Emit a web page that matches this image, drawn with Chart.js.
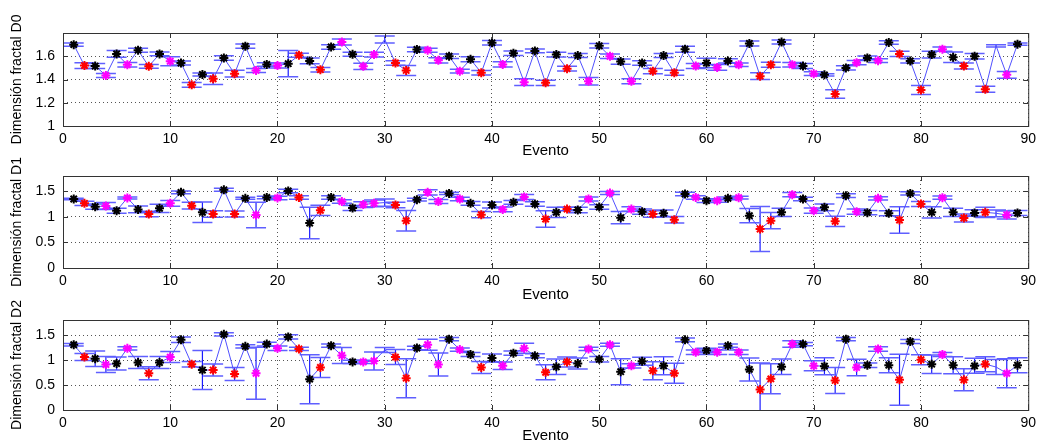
<!DOCTYPE html>
<html>
<head>
<meta charset="utf-8">
<script src="https://cdn.jsdelivr.net/npm/chart.js@4.4.1/dist/chart.umd.min.js"></script>
<style>
  body { margin: 0; background: #fff; }
  canvas { position: absolute; left: 0; }
</style>
</head>
<body>
<canvas id="c0" width="1041" height="160" style="top:0"></canvas>
<canvas id="c1" width="1041" height="155" style="top:150px"></canvas>
<canvas id="c2" width="1041" height="155" style="top:290px"></canvas>
<script>
const eventos = [1,2,3,4,5,6,7,8,9,10,11,12,13,14,15,16,17,18,19,20,21,22,23,24,25,26,27,28,29,30,
  31,32,33,34,35,36,37,38,39,40,41,42,43,44,45,46,47,48,49,50,51,52,53,54,55,56,57,58,59,60,
  61,62,63,64,65,66,67,68,69,70,71,72,73,74,75,76,77,78,79,80,81,82,83,84,85,86,87,88,89];

// k = negro, r = rojo, m = magenta, - = sin marcador
const tipos = ['k','r','k','m','k','m','k','r','k','m',
  'k','r','k','r','k','r','k','m','k','m',
  'k','r','k','r','k','m','k','m','m','-',
  'r','r','k','m','m','k','m','k','r','k',
  'm','k','m','k','r','k','r','k','m','k',
  'm','k','m','k','r','k','r','k','m','k',
  'm','k','m','k','r','r','k','m','k','m',
  'k','r','k','m','k','m','k','r','k','r',
  'k','m','k','r','k','r','-','m','k'];

const d0 = [1.70,1.52,1.516,1.435,1.62,1.527,1.652,1.513,1.62,1.557,
  1.542,1.354,1.443,1.406,1.585,1.45,1.687,1.478,1.53,1.52,
  1.536,1.609,1.56,1.484,1.68,1.722,1.617,1.513,1.614,1.745,
  1.542,1.478,1.658,1.652,1.565,1.60,1.472,1.574,1.458,1.716,
  1.53,1.626,1.377,1.646,1.371,1.614,1.493,1.606,1.385,1.69,
  1.60,1.554,1.385,1.542,1.472,1.606,1.458,1.661,1.516,1.542,
  1.504,1.56,1.527,1.71,1.429,1.527,1.722,1.527,1.516,1.45,
  1.44,1.275,1.50,1.545,1.586,1.562,1.719,1.62,1.56,1.31,
  1.614,1.661,1.591,1.516,1.60,1.316,1.69,1.44,1.704];
const e0 = [.015,.025,.022,.017,.029,.02,.017,.016,.016,.038,
  .017,.02,.013,.05,.02,.029,.019,.017,.015,.022,
  .113,.017,.025,.019,.02,.026,.017,.026,.02,.03,
  .019,.043,.019,.017,.023,.019,.017,.022,.019,.019,
  .022,.02,.029,.016,.022,.02,.02,.017,.033,.019,
  .019,.022,.022,.02,.023,.017,.022,.026,.022,.04,
  .025,.019,.015,.022,.03,.022,.017,.019,.022,.016,
  .01,.036,.019,.019,.017,.016,.015,.023,.019,.038,
  .028,.019,.045,.025,.023,.025,.01,.029,.01];

const d1 = [1.35,1.265,1.20,1.213,1.12,1.37,1.147,1.056,1.167,1.265,
  1.48,1.22,1.089,1.056,1.53,1.056,1.363,1.037,1.38,1.37,
  1.507,1.38,0.88,1.128,1.38,1.30,1.174,1.24,1.265,1.28,
  1.233,0.926,1.337,1.48,1.30,1.46,1.35,1.265,1.043,1.233,
  1.147,1.285,1.39,1.252,0.958,1.089,1.154,1.135,1.35,1.193,
  1.467,0.985,1.154,1.102,1.056,1.07,0.945,1.448,1.38,1.317,
  1.317,1.363,1.376,1.024,0.763,0.926,1.089,1.435,1.35,1.122,
  1.187,0.913,1.415,1.102,1.083,1.363,1.07,0.939,1.46,1.252,
  1.089,1.376,1.089,0.978,1.076,1.089,1.07,1.037,1.076];
const e1 = [.016,.042,.05,.07,.05,.02,.065,.055,.08,.055,
  .026,.065,.2,.065,.03,.06,.02,.25,.026,.033,
  .036,.033,.31,.1,.033,.033,.05,.055,.065,.07,
  .055,.2,.026,.05,.04,.02,.036,.036,.06,.06,
  .045,.036,.05,.045,.16,.1,.033,.055,.04,.045,
  .03,.12,.045,.05,.065,.065,.065,.033,.033,.036,
  .033,.026,.026,.14,.44,.16,.08,.042,.033,.05,
  .065,.1,.036,.05,.042,.033,.05,.26,.033,.05,
  .11,.033,.08,.08,.065,.1,.065,.08,.05];

const d2 = [1.305,1.058,1.026,0.909,0.929,1.234,0.948,0.734,0.948,1.058,
  1.403,0.916,0.799,0.799,1.513,0.721,1.273,0.734,1.318,1.234,
  1.461,1.221,0.617,0.851,1.286,1.091,0.961,0.961,0.981,1.2,
  1.058,0.636,1.24,1.305,0.909,1.416,1.208,1.11,0.851,1.039,
  0.883,1.136,1.234,1.084,0.753,0.864,0.961,0.929,1.221,1.013,
  1.305,0.766,0.883,0.974,0.786,0.883,0.734,1.403,1.156,1.188,
  1.156,1.286,1.156,0.812,0.409,0.623,0.864,1.318,1.318,0.883,
  0.877,0.591,1.416,0.851,0.896,1.221,0.896,0.604,1.37,1.006,
  0.916,1.11,0.896,0.604,0.883,0.916,0.86,0.734,0.896];
const e2 = [.023,.07,.155,.16,.13,.033,.12,.13,.12,.11,
  .055,.055,.39,.12,.033,.13,.033,.52,.036,.045,
  .042,.033,.49,.2,.033,.16,.033,.033,.18,.05,
  .15,.39,.033,.11,.23,.033,.033,.042,.12,.08,
  .075,.042,.1,.04,.15,.155,.1,.11,.033,.055,
  .03,.26,.042,.08,.18,.18,.2,.036,.045,.045,
  .045,.033,.045,.23,.53,.3,.155,.065,.033,.1,
  .17,.26,.033,.165,.045,.045,.15,.51,.04,.1,
  .185,.042,.17,.22,.15,.15,.15,.29,.15];

const ticksD0 = [1, 1.2, 1.4, 1.6];
const ticksD = [0, 0.5, 1, 1.5];
const ticksX = [0, 10, 20, 30, 40, 50, 60, 70, 80, 90];

const colores = { k: '#000000', r: '#ff0000', m: '#ff00ff', '-': 'rgba(0,0,0,0)' };
const fuente = 'Liberation Sans, Arial, sans-serif';

// barras de error estilo matlab
const errorBars = {
  id: 'errorBars',
  beforeDatasetsDraw(chart) {
    const { ctx, chartArea, scales: { x, y } } = chart;
    const ds = chart.data.datasets[0];
    ctx.save();
    ctx.beginPath();
    ctx.rect(chartArea.left, chartArea.top, chartArea.width, chartArea.height);
    ctx.clip();
    ds.data.forEach((p, i) => {
      const px = x.getPixelForValue(p.x);
      const top = y.getPixelForValue(p.y + ds.err[i]);
      const bot = y.getPixelForValue(p.y - ds.err[i]);
      ctx.strokeStyle = '#1a1aff';
      ctx.lineWidth = 1.2;
      ctx.beginPath();
      ctx.moveTo(px, top); ctx.lineTo(px, bot);
      ctx.stroke();
      ctx.strokeStyle = 'rgb(95,95,255)';
      ctx.lineWidth = 1.5;
      ctx.beginPath();
      ctx.moveTo(px - 10, top); ctx.lineTo(px + 10, top);
      ctx.moveTo(px - 10, bot); ctx.lineTo(px + 10, bot);
      ctx.stroke();
    });
    ctx.restore();
  }
};

// caja y marcas internas
const caja = {
  id: 'caja',
  afterDraw(chart) {
    const { ctx, chartArea: a, scales: { x, y } } = chart;
    ctx.save();
    ctx.strokeStyle = '#333';
    ctx.lineWidth = 1;
    ctx.strokeRect(a.left + 0.5, a.top + 0.5, a.width, a.height);
    ctx.beginPath();
    x.ticks.forEach(t => {
      const px = Math.round(x.getPixelForValue(t.value)) + 0.5;
      ctx.moveTo(px, a.bottom); ctx.lineTo(px, a.bottom - 5);
      ctx.moveTo(px, a.top); ctx.lineTo(px, a.top + 5);
    });
    y.ticks.forEach(t => {
      const py = Math.round(y.getPixelForValue(t.value)) + 0.5;
      ctx.moveTo(a.left, py); ctx.lineTo(a.left + 5, py);
      ctx.moveTo(a.right, py); ctx.lineTo(a.right - 5, py);
    });
    ctx.stroke();
    ctx.restore();
  }
};

function panel(id, valores, errores, yMin, yTicks, titulo, padTop, altoEje, padTitulo) {
  new Chart(document.getElementById(id), {
    type: 'line',
    data: {
      datasets: [{
        data: eventos.map((e, i) => ({ x: e, y: valores[i] })),
        err: errores,
        borderColor: 'rgb(80,80,255)',
        borderWidth: 1,
        tension: 0,
        pointStyle: 'star',
        pointRadius: tipos.map(t => t === '-' ? 0 : 4.5),
        pointBorderColor: tipos.map(t => colores[t]),
        pointBackgroundColor: tipos.map(t => colores[t]),
        pointBorderWidth: 2
      }]
    },
    options: {
      responsive: false,
      animation: false,
      layout: { padding: { top: padTop, right: 11, left: 0, bottom: 0 } },
      plugins: { legend: { display: false }, tooltip: { enabled: false } },
      scales: {
        x: {
          type: 'linear', min: 0, max: 90,
          afterBuildTicks: s => { s.ticks = ticksX.map(v => ({ value: v })); },
          afterFit: s => { s.height = altoEje; },
          ticks: { padding: 5, color: '#000', font: { family: fuente, size: 14 }, maxRotation: 0 },
          grid: { drawTicks: false, color: '#555', lineWidth: 1 },
          border: { display: false, dash: [1, 3] },
          title: { display: true, text: 'Evento', color: '#000', font: { family: fuente, size: 15 }, padding: { top: 0, bottom: padTitulo } }
        },
        y: {
          min: yMin, max: 1.8,
          afterBuildTicks: s => { s.ticks = yTicks.map(v => ({ value: v })); },
          afterFit: s => { s.width = 63; },
          ticks: { padding: 8, color: '#000', font: { family: fuente, size: 14 }, callback: v => String(v) },
          grid: { drawTicks: false, color: '#555', lineWidth: 1 },
          border: { display: false, dash: [1, 3] },
          title: { display: true, text: titulo, color: '#000', font: { family: fuente, size: 14 }, padding: { top: 9, bottom: 0 } }
        }
      }
    },
    plugins: [errorBars, caja]
  });
}

panel('c0', d0, e0, 1, ticksD0, 'Dimensión fractal D0', 33, 34, 0);
panel('c1', d1, e1, 0, ticksD, 'Dimensión fractal D1', 26, 37, 1);
panel('c2', d2, e2, 0, ticksD, 'Dimensión fractal D2', 30, 35, 0);
</script>
</body>
</html>
